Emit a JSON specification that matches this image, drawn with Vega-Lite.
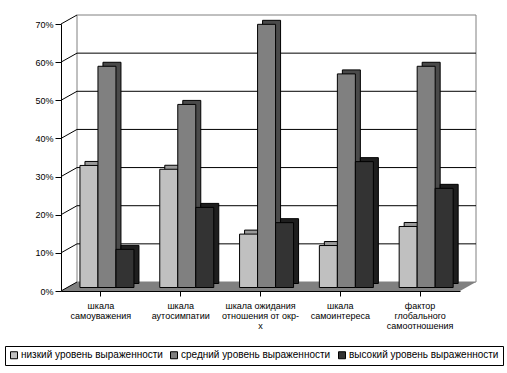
{
  "$schema": "https://vega.github.io/schema/vega-lite/v6.json",
  "autosize": "none",
  "width": 399,
  "height": 267,
  "padding": {"left": 61, "top": 24, "right": 47, "bottom": 82},
  "background": "white",
  "config": {
    "view": {"stroke": null},
    "font": "Liberation Sans",
    "axisY": {"labelOverlap": false, "tickCount": 7, "format": ".0%", "title": null, "grid": false, "domainColor": "black", "tickColor": "black", "tickSize": 6, "labelPadding": 2, "labelFontSize": 9, "labelColor": "black"}
  },
  "datasets": {
    "bars": [
      {"category": "шкала\nсамоуважения", "series": "низкий уровень выраженности", "value": 0.32},
      {"category": "шкала\nсамоуважения", "series": "средний уровень выраженности", "value": 0.58},
      {"category": "шкала\nсамоуважения", "series": "высокий уровень выраженности", "value": 0.10},
      {"category": "шкала\nаутосимпатии", "series": "низкий уровень выраженности", "value": 0.31},
      {"category": "шкала\nаутосимпатии", "series": "средний уровень выраженности", "value": 0.48},
      {"category": "шкала\nаутосимпатии", "series": "высокий уровень выраженности", "value": 0.21},
      {"category": "шкала ожидания\nотношения от окр-\nх", "series": "низкий уровень выраженности", "value": 0.14},
      {"category": "шкала ожидания\nотношения от окр-\nх", "series": "средний уровень выраженности", "value": 0.69},
      {"category": "шкала ожидания\nотношения от окр-\nх", "series": "высокий уровень выраженности", "value": 0.17},
      {"category": "шкала\nсамоинтереса", "series": "низкий уровень выраженности", "value": 0.11},
      {"category": "шкала\nсамоинтереса", "series": "средний уровень выраженности", "value": 0.56},
      {"category": "шкала\nсамоинтереса", "series": "высокий уровень выраженности", "value": 0.33},
      {"category": "фактор\nглобального\nсамоотношения", "series": "низкий уровень выраженности", "value": 0.16},
      {"category": "фактор\nглобального\nсамоотношения", "series": "средний уровень выраженности", "value": 0.58},
      {"category": "фактор\nглобального\nсамоотношения", "series": "высокий уровень выраженности", "value": 0.26}
    ],
    "wall": [{"x0": 0, "x1": 1, "y0": 0, "y1": 0.7}],
    "ticks": [{"v": 0}, {"v": 0.1}, {"v": 0.2}, {"v": 0.3}, {"v": 0.4}, {"v": 0.5}, {"v": 0.6}, {"v": 0.7}],
    "grid": [{"v": 0.1}, {"v": 0.2}, {"v": 0.3}, {"v": 0.4}, {"v": 0.5}, {"v": 0.6}],
    "floor": [
      {"fy": 0, "fx0": 0, "fx1": 1},
      {"fy": 0.0236, "fx0": 0.04, "fx1": 1.04}
    ]
  },
  "resolve": {"scale": {"x": "independent"}},
  "layer": [
    {
      "layer": [
        {
          "data": {"name": "wall"},
          "mark": {"type": "rect", "fill": "white", "stroke": "#808080", "strokeWidth": 1, "xOffset": 16, "x2Offset": 16, "yOffset": -9, "y2Offset": -9},
          "encoding": {
            "x": {"field": "x0", "type": "quantitative", "scale": {"domain": [0, 1], "nice": false, "zero": false}, "axis": null},
            "x2": {"field": "x1"},
            "y": {"field": "y0", "type": "quantitative", "scale": {"domain": [0, 0.7], "nice": false}},
            "y2": {"field": "y1"}
          }
        },
        {
          "data": {"name": "grid"},
          "mark": {"type": "rule", "color": "black", "strokeWidth": 1, "xOffset": 16, "x2Offset": 16, "yOffset": -9, "y2Offset": -9},
          "encoding": {
            "x": {"datum": 0, "type": "quantitative", "axis": null},
            "x2": {"datum": 1},
            "y": {"field": "v", "type": "quantitative"}
          }
        },
        {
          "data": {"name": "floor"},
          "mark": {"type": "area", "orient": "horizontal", "color": "#808080", "opacity": 1},
          "encoding": {
            "y": {"field": "fy", "type": "quantitative"},
            "x": {"field": "fx0", "type": "quantitative", "axis": null},
            "x2": {"field": "fx1"}
          }
        },
        {
          "data": {"name": "ticks"},
          "mark": {"type": "rule", "color": "black", "strokeWidth": 1, "x2Offset": 16, "y2Offset": -9},
          "encoding": {
            "x": {"datum": 0, "type": "quantitative", "axis": null},
            "x2": {"datum": 0},
            "y": {"field": "v", "type": "quantitative"},
            "y2": {"field": "v"}
          }
        }
      ]
    },
    {
      "data": {"name": "bars"},
      "resolve": {"scale": {"color": "independent", "xOffset": "independent"}},
      "layer": [
        {
          "mark": {"type": "bar", "stroke": "black", "strokeWidth": 1, "yOffset": -7.5, "y2Offset": -7.5},
          "encoding": {
            "x": {"field": "category", "type": "nominal", "sort": null, "scale": {"paddingInner": 0.325, "paddingOuter": 0.1625}, "axis": {"title": null, "labelAngle": 0, "domainColor": "black", "tickColor": "black", "tickSize": 5, "labelPadding": 5, "labelFontSize": 9, "labelLineHeight": 10, "labelColor": "black", "labelLimit": 200, "labelExpr": "split(datum.label, '\\n')"}},
            "xOffset": {"field": "series", "type": "nominal", "sort": ["низкий уровень выраженности", "средний уровень выраженности", "высокий уровень выраженности"], "scale": {"range": [11, 65], "paddingInner": 0, "paddingOuter": 0}},
            "y": {"field": "value", "type": "quantitative"},
            "color": {"field": "series", "type": "nominal", "scale": {"domain": ["низкий уровень выраженности", "средний уровень выраженности", "высокий уровень выраженности"], "range": ["#999999", "#4a4a4a", "#1e1e1e"]}, "legend": null}
          }
        },
        {
          "mark": {"type": "bar", "stroke": "black", "strokeWidth": 1, "yOffset": -3.5, "y2Offset": -3.5, "opacity": 1},
          "encoding": {
            "x": {"field": "category", "type": "nominal", "sort": null},
            "xOffset": {"field": "series", "type": "nominal", "sort": ["низкий уровень выраженности", "средний уровень выраженности", "высокий уровень выраженности"], "scale": {"range": [6, 60], "paddingInner": 0, "paddingOuter": 0}},
            "y": {"field": "value", "type": "quantitative"},
            "color": {"field": "series", "type": "nominal", "scale": {"domain": ["низкий уровень выраженности", "средний уровень выраженности", "высокий уровень выраженности"], "range": ["#c0c0c0", "#808080", "#333333"]},
              "legend": {"title": null, "orient": "none", "legendX": -56, "legendY": 322, "direction": "horizontal", "strokeColor": "black", "padding": 4, "symbolType": "square", "symbolSize": 49, "symbolStrokeColor": "black", "symbolStrokeWidth": 1, "symbolOpacity": 1, "labelFontSize": 10, "labelColor": "black", "columnPadding": 5, "labelOffset": 2, "labelLimit": 300}}
          }
        }
      ]
    }
  ]
}
